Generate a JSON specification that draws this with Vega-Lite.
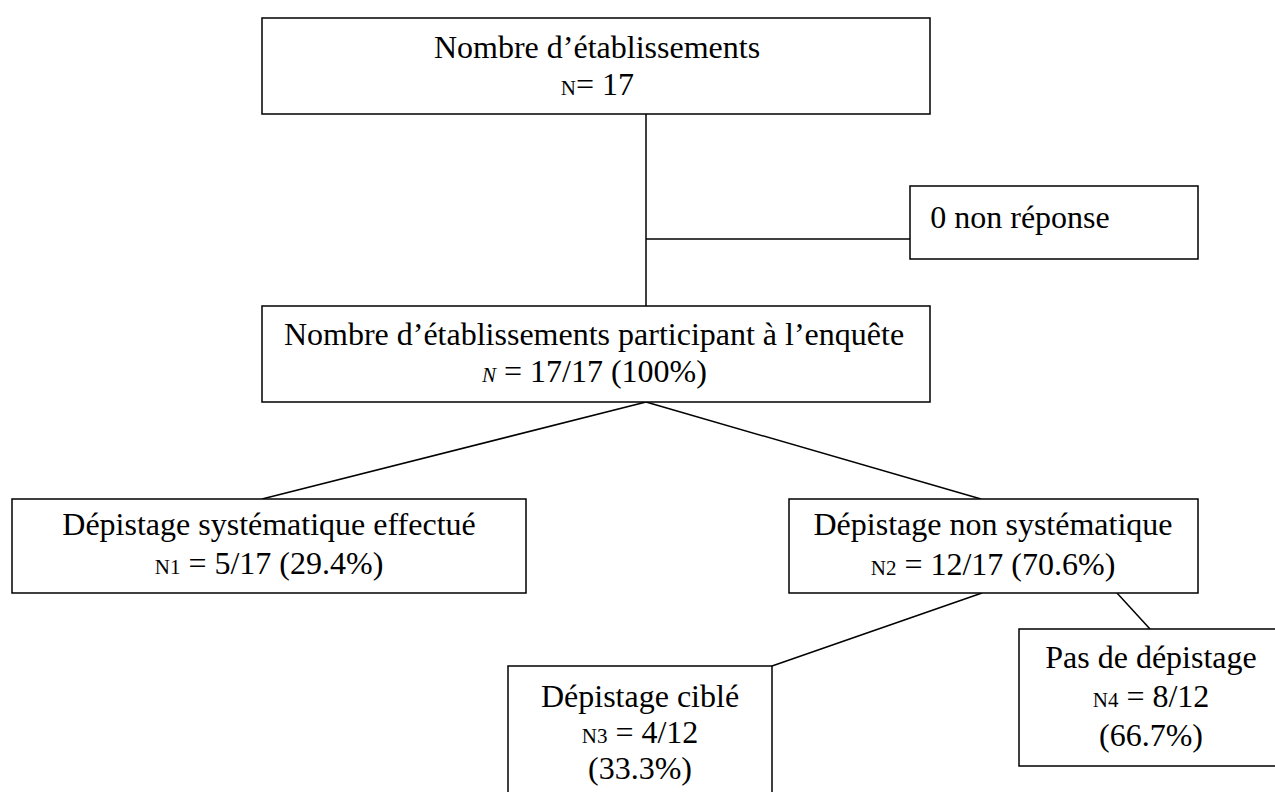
{
  "$schema": "https://vega.github.io/schema/vega-lite/v6.json",
  "width": 1275,
  "height": 792,
  "padding": 0,
  "autosize": {"type": "none"},
  "background": "white",
  "config": {
    "view": {"stroke": null},
    "text": {"font": "Liberation Serif", "color": "black", "baseline": "alphabetic"}
  },
  "datasets": {
    "links": [
      {"from": "top", "to": "middle", "x1": 646, "y1": 114, "x2": 646, "y2": 306},
      {"from": "trunk", "to": "nonrep", "x1": 646, "y1": 239, "x2": 910, "y2": 239},
      {"from": "middle", "to": "left", "x1": 646, "y1": 402, "x2": 262, "y2": 499},
      {"from": "middle", "to": "right", "x1": 646, "y1": 402, "x2": 981, "y2": 499},
      {"from": "right", "to": "cible", "x1": 982, "y1": 593, "x2": 772, "y2": 666},
      {"from": "right", "to": "pas", "x1": 1117, "y1": 593, "x2": 1150, "y2": 629}
    ],
    "boxes": [
      {"box": "top", "left": 262, "right": 930, "top": 18, "bottom": 114},
      {"box": "nonrep", "left": 910, "right": 1198, "top": 186, "bottom": 259},
      {"box": "middle", "left": 262, "right": 930, "top": 306, "bottom": 402},
      {"box": "left", "left": 12, "right": 526, "top": 499, "bottom": 593},
      {"box": "right", "left": 789, "right": 1198, "top": 499, "bottom": 593},
      {"box": "cible", "left": 508, "right": 772, "top": 666, "bottom": 810},
      {"box": "pas", "left": 1019, "right": 1290, "top": 629, "bottom": 766}
    ],
    "labels": [
      {"box": "top", "part": "main", "text": "Nombre d’établissements", "x": 597, "y": 58},
      {"box": "top", "part": "prefix", "text": "N", "x": 576, "y": 95},
      {"box": "top", "part": "value", "text": "= 17", "x": 576, "y": 95},
      {"box": "nonrep", "part": "main", "text": "0 non réponse", "x": 1020, "y": 228},
      {"box": "middle", "part": "main", "text": "Nombre d’établissements participant à l’enquête", "x": 594, "y": 345},
      {"box": "middle", "part": "prefixItalic", "text": "N", "x": 496, "y": 382},
      {"box": "middle", "part": "value", "text": "= 17/17 (100%)", "x": 504, "y": 382},
      {"box": "left", "part": "main", "text": "Dépistage systématique effectué", "x": 269, "y": 535},
      {"box": "left", "part": "prefix", "text": "N1", "x": 180.4, "y": 574},
      {"box": "left", "part": "value", "text": "= 5/17 (29.4%)", "x": 188.4, "y": 574},
      {"box": "right", "part": "main", "text": "Dépistage non systématique", "x": 993, "y": 535},
      {"box": "right", "part": "prefix", "text": "N2", "x": 896.4, "y": 575},
      {"box": "right", "part": "value", "text": "= 12/17 (70.6%)", "x": 904.4, "y": 575},
      {"box": "cible", "part": "main", "text": "Dépistage ciblé", "x": 640, "y": 707},
      {"box": "cible", "part": "prefix", "text": "N3", "x": 607.4, "y": 743},
      {"box": "cible", "part": "value", "text": "= 4/12", "x": 615.4, "y": 743},
      {"box": "cible", "part": "main", "text": "(33.3%)", "x": 640, "y": 779},
      {"box": "pas", "part": "main", "text": "Pas de dépistage", "x": 1151, "y": 668},
      {"box": "pas", "part": "prefix", "text": "N4", "x": 1118.4, "y": 707},
      {"box": "pas", "part": "value", "text": "= 8/12", "x": 1126.4, "y": 707},
      {"box": "pas", "part": "main", "text": "(66.7%)", "x": 1151, "y": 746}
    ]
  },
  "layer": [
    {
      "data": {"name": "links"},
      "mark": {"type": "rule", "color": "black", "strokeWidth": 1.5},
      "encoding": {
        "x": {"field": "x1", "type": "quantitative", "scale": {"domain": [0, 1275], "nice": false, "zero": false}, "axis": null},
        "y": {"field": "y1", "type": "quantitative", "scale": {"domain": [0, 792], "nice": false, "zero": false, "reverse": true}, "axis": null},
        "x2": {"field": "x2"},
        "y2": {"field": "y2"}
      }
    },
    {
      "data": {"name": "boxes"},
      "mark": {"type": "rect", "fill": "white", "stroke": "black", "strokeWidth": 1.5},
      "encoding": {
        "x": {"field": "left", "type": "quantitative", "scale": {"domain": [0, 1275], "nice": false, "zero": false}, "axis": null},
        "x2": {"field": "right"},
        "y": {"field": "top", "type": "quantitative", "scale": {"domain": [0, 792], "nice": false, "zero": false, "reverse": true}, "axis": null},
        "y2": {"field": "bottom"}
      }
    },
    {
      "data": {"name": "labels"},
      "transform": [{"filter": "datum.part === 'main'"}],
      "mark": {"type": "text", "align": "center", "fontSize": 32},
      "encoding": {
        "x": {"field": "x", "type": "quantitative", "axis": null},
        "y": {"field": "y", "type": "quantitative", "axis": null},
        "text": {"field": "text"}
      }
    },
    {
      "data": {"name": "labels"},
      "transform": [{"filter": "datum.part === 'value'"}],
      "mark": {"type": "text", "align": "left", "fontSize": 32},
      "encoding": {
        "x": {"field": "x", "type": "quantitative", "axis": null},
        "y": {"field": "y", "type": "quantitative", "axis": null},
        "text": {"field": "text"}
      }
    },
    {
      "data": {"name": "labels"},
      "transform": [{"filter": "datum.part === 'prefix'"}],
      "mark": {"type": "text", "align": "right", "fontSize": 21},
      "encoding": {
        "x": {"field": "x", "type": "quantitative", "axis": null},
        "y": {"field": "y", "type": "quantitative", "axis": null},
        "text": {"field": "text"}
      }
    },
    {
      "data": {"name": "labels"},
      "transform": [{"filter": "datum.part === 'prefixItalic'"}],
      "mark": {"type": "text", "align": "right", "fontSize": 21, "fontStyle": "italic"},
      "encoding": {
        "x": {"field": "x", "type": "quantitative", "axis": null},
        "y": {"field": "y", "type": "quantitative", "axis": null},
        "text": {"field": "text"}
      }
    }
  ]
}
